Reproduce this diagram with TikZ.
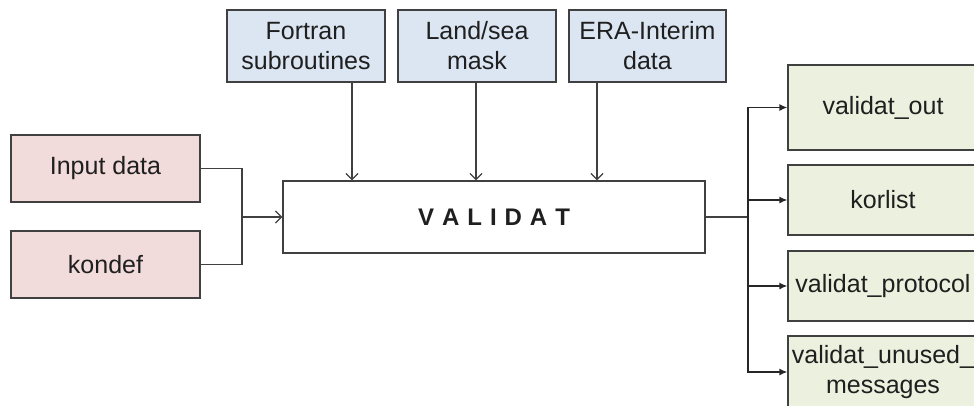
\documentclass[tikz,border=0pt]{standalone}
\usepackage{fontspec}
\setmainfont{Liberation Sans}
\usetikzlibrary{arrows.meta}
\definecolor{inpink}{HTML}{F2DCDB}
\definecolor{srcblue}{HTML}{DCE6F2}
\definecolor{outgreen}{HTML}{EBF1DE}
\definecolor{edge}{HTML}{404040}
\begin{document}
\begin{tikzpicture}[x=1pt,y=-1pt,
  box/.style={draw=edge, line width=1.3pt, rectangle, inner sep=0pt, align=center,
    font=\fontsize{25}{30}\selectfont, text=black!88},
  inbox/.style={box, fill=inpink, minimum width=189pt, minimum height=67pt},
  srcbox/.style={box, fill=srcblue, minimum width=158pt, minimum height=72pt},
  outbox/.style={box, fill=outgreen, minimum width=190pt, minimum height=70pt},
  mainbox/.style={box, fill=white, minimum width=422pt, minimum height=72pt,
    font=\fontsize{24}{28}\selectfont\bfseries},
  feed/.style={draw=edge, line width=1.3pt, -{Straight Barb[length=6pt,width=12pt]}},
  link/.style={draw=edge, line width=1.3pt},
  emit/.style={draw=black!85, line width=1.3pt, -{Latex[length=8pt,width=7pt]}}]
\useasboundingbox (0,0) rectangle (974,405);

% inputs on the left
\node[inbox] (in) at (105.5,168.5) {Input data};
\node[inbox] (kon) at (105.5,264.5) {kondef};

% sources above
\node[srcbox] (fort) at (306,46) {Fortran\\subroutines};
\node[srcbox] (land) at (477,46) {Land/sea\\mask};
\node[srcbox, minimum width=157pt] (era) at (647.5,46) {ERA-Interim\\data};

% the program
\node[mainbox] (val) at (494,217) {V\,\,A\,\,L\,\,I\,\,D\,\,A\,\,T};

% outputs on the right
\node[outbox, minimum height=85pt] (out) at (883,107.5) {validat\_out};
\node[outbox] (kor) at (883,200) {korlist};
\node[outbox] (prot) at (883,286) {validat\_protocol};
\node[outbox, minimum height=72pt] (unu) at (883,372) {validat\_unused\_\\messages};

% input connectors
\coordinate (jl) at (242,217);
\draw[link] (in.east) -| (jl);
\draw[link] (kon.east) -| (jl);
\draw[feed] (jl) -- (val.west);

% source connectors
\draw[feed] ([xshift=46pt]fort.south) -- ([xshift=46pt]fort.south |- val.north);
\draw[feed] ([xshift=-1pt]land.south) -- ([xshift=-1pt]land.south |- val.north);
\draw[feed] ([xshift=-50.5pt]era.south) -- ([xshift=-50.5pt]era.south |- val.north);

% output connectors
\coordinate (jr) at (748,217);
\draw[link] (val.east) -- (jr);
\draw[emit] (jr) |- (out.west);
\draw[emit] (jr) |- (kor.west);
\draw[emit] (jr) |- (prot.west);
\draw[emit] (jr) |- (unu.west);
\end{tikzpicture}
\end{document}
